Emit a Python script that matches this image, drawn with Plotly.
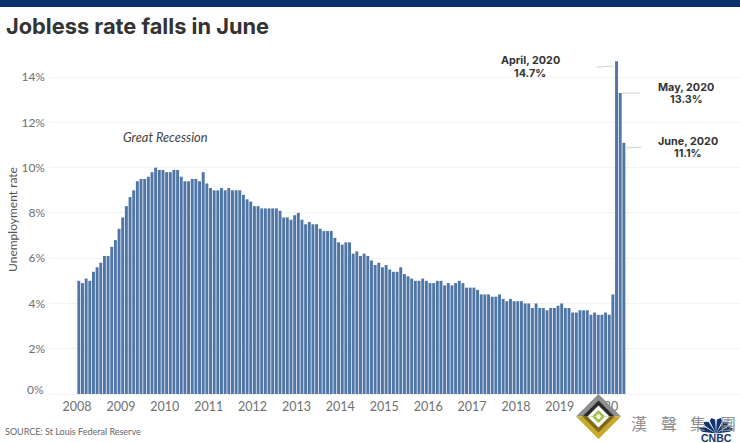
#!/usr/bin/env python3
import numpy as np
import plotly.graph_objects as go

# Monthly unemployment rate, Jan 2008 to Jun 2020
rate_2008 = [5.0, 4.9, 5.1, 5.0, 5.4, 5.6, 5.8, 6.1, 6.1, 6.5, 6.8, 7.3]
rate_2009 = [7.8, 8.3, 8.7, 9.0, 9.4, 9.5, 9.5, 9.6, 9.8, 10.0, 9.9, 9.9]
rate_2010 = [9.8, 9.8, 9.9, 9.9, 9.6, 9.4, 9.4, 9.5, 9.5, 9.4, 9.8, 9.3]
rate_2011 = [9.1, 9.0, 9.0, 9.1, 9.0, 9.1, 9.0, 9.0, 9.0, 8.8, 8.6, 8.5]
rate_2012 = [8.3, 8.3, 8.2, 8.2, 8.2, 8.2, 8.2, 8.1, 7.8, 7.8, 7.7, 7.9]
rate_2013 = [8.0, 7.7, 7.5, 7.6, 7.5, 7.5, 7.3, 7.2, 7.2, 7.2, 6.9, 6.7]
rate_2014 = [6.6, 6.7, 6.7, 6.2, 6.3, 6.1, 6.2, 6.1, 5.9, 5.7, 5.8, 5.6]
rate_2015 = [5.7, 5.5, 5.4, 5.4, 5.6, 5.3, 5.2, 5.1, 5.0, 5.0, 5.1, 5.0]
rate_2016 = [4.9, 4.9, 5.0, 5.0, 4.8, 4.9, 4.8, 4.9, 5.0, 4.9, 4.7, 4.7]
rate_2017 = [4.7, 4.6, 4.4, 4.4, 4.4, 4.3, 4.3, 4.4, 4.2, 4.1, 4.2, 4.1]
rate_2018 = [4.1, 4.1, 4.0, 4.0, 3.8, 4.0, 3.8, 3.8, 3.7, 3.8, 3.8, 3.9]
rate_2019 = [4.0, 3.8, 3.8, 3.6, 3.6, 3.7, 3.7, 3.7, 3.5, 3.6, 3.5, 3.5]
rate_2020 = [3.6, 3.5, 4.4, 14.7, 13.3, 11.1]

year_labels = ["2008", "2009", "2010", "2011", "2012", "2013", "2014",
               "2015", "2016", "2017", "2018", "2019", "2020"]
percent_ticks = [2, 4, 6, 8, 10, 12, 14]

rates = (rate_2008 + rate_2009 + rate_2010 + rate_2011 + rate_2012 + rate_2013 + rate_2014
         + rate_2015 + rate_2016 + rate_2017 + rate_2018 + rate_2019 + rate_2020)
months = np.arange(len(rates))

WIDTH, HEIGHT = 740, 443
LEFT, RIGHT, TOP, BOTTOM = 50, 0, 45, 49.4


# Pixel position on the page to paper coordinates
def px(x):
    return (x - LEFT) / (WIDTH - LEFT - RIGHT)


def py(y):
    return (HEIGHT - BOTTOM - y) / (HEIGHT - TOP - BOTTOM)


def polygon(points, color):
    path = "M " + " L ".join(f"{px(x)},{py(y)}" for x, y in points) + " Z"
    return dict(type="path", path=path, xref="paper", yref="paper",
                fillcolor=color, line_width=0, layer="above")


def leader(x0, y0, x1, y1):
    return dict(type="line", xref="paper", yref="paper", x0=px(x0), y0=py(y0), x1=px(x1), y1=py(y1),
                line=dict(color="#d0d0d0", width=1), layer="above")


def text(x, y, label, size, color="#333333", font="Lato", anchor="center"):
    return dict(x=px(x), y=py(y), xref="paper", yref="paper", text=label, showarrow=False,
                xanchor=anchor, yanchor="middle", borderpad=0,
                font=dict(family=font, size=size, color=color))


fig = go.Figure()
fig.add_trace(go.Bar(x=months, y=rates, marker=dict(color="#4f76a6", line_width=0),
                     hoverinfo="none"))

shapes = [
    # navy strip across the top
    polygon([(0, 0), (WIDTH, 0), (WIDTH, 7), (0, 7)], "#0b2f6c"),
    leader(597, 67, 614, 66),
    leader(622, 93, 640, 93),
    leader(625, 148, 641, 147),
]

# Watermark diamond
cx, cy = 598.5, 416
for half, top_color, bottom_color in [(22.5, "#8f8f8f", "#c9a92c"), (16, "#2b2b2b", "#7d6a1c"),
                                      (11, "#ffffff", "#ffffff"), (6.5, "#9dbf4a", "#9dbf4a"),
                                      (3, "#ffffff", "#ffffff")]:
    shapes.append(polygon([(cx - half, cy), (cx, cy - half), (cx + half, cy)], top_color))
    shapes.append(polygon([(cx - half, cy), (cx, cy + half), (cx + half, cy)], bottom_color))

# CNBC peacock, one feather per loop
for angle in [-72, -44, -15, 15, 44, 72]:
    a = np.radians(angle)
    bx, by = 716, 433
    tip = (bx + 18 * np.sin(a), by - 16 * np.cos(a))
    side1 = (bx + 14 * np.sin(a - 0.2), by - 14 * np.cos(a - 0.2))
    side2 = (bx + 14 * np.sin(a + 0.2), by - 14 * np.cos(a + 0.2))
    shapes.append(polygon([(bx, by), side1, tip, side2], "#12346f"))

annotations = [
    text(5, 26, "<b>Jobless rate falls in June</b>", 21.8, font="Inter", anchor="left"),
    text(530, 60, "<b>April, 2020</b>", 10.8, font="Inter"),
    text(530, 73, "<b>14.7%</b>", 10.8, font="Inter"),
    text(686, 87, "<b>May, 2020</b>", 10.8, font="Inter"),
    text(686, 99, "<b>13.3%</b>", 10.8, font="Inter"),
    text(688, 141, "<b>June, 2020</b>", 10.8, font="Inter"),
    text(688, 153, "<b>11.1%</b>", 10.8, font="Inter"),
    text(165, 137, "<i>Great Recession</i>", 12.8, color="#444444"),
    # the 0% label sits a little above its line in the original
    text(45, 389, "0%", 12, color="#707070", anchor="right"),
    text(4, 431, "SOURCE: St Louis Federal Reserve", 9, color="#666666", anchor="left"),
    text(639, 423, "漢", 16, color="#8c8c8c", font="Noto Sans CJK TC"),
    text(669, 423, "聲", 16, color="#8c8c8c", font="Noto Sans CJK TC"),
    text(698, 423, "集", 16, color="#8c8c8c", font="Noto Sans CJK TC"),
    text(728, 423, "團", 16, color="#8c8c8c", font="Noto Sans CJK TC"),
    text(716, 437.5, "<b>CNBC</b>", 10.5, color="#12346f", font="Liberation Sans"),
]

fig.update_layout(
    width=WIDTH,
    height=HEIGHT,
    margin=dict(l=LEFT, r=RIGHT, t=TOP, b=BOTTOM, pad=0),
    paper_bgcolor="white",
    plot_bgcolor="white",
    showlegend=False,
    bargap=0.2,
    shapes=shapes,
    annotations=annotations,
    font=dict(family="Lato", color="#666666"),
)
fig.update_xaxes(
    range=[-7.88, 180.75],
    tickvals=[12 * i - 0.5 for i in range(len(year_labels))],
    ticktext=year_labels,
    tickfont=dict(size=12.5, color="#707070"),
    ticks="",
    ticklabelstandoff=3,
    showgrid=False,
    zeroline=False,
    showline=False,
)
fig.update_yaxes(
    range=[0, 15.42],
    tickvals=percent_ticks,
    ticktext=[f"{p}%" for p in percent_ticks],
    tickfont=dict(size=12, color="#707070"),
    ticks="",
    ticklabelstandoff=4,
    title=dict(text="Unemployment rate", font=dict(size=12, color="#555555"), standoff=1),
    gridcolor="#f3f3f3",
    gridwidth=1,
    zeroline=True,
    zerolinecolor="#f3f3f3",
    zerolinewidth=1,
    showline=False,
)

# page margin off so the figure fills the window
fig.write_html("out.html", config=dict(displayModeBar=False),
               post_script="document.body.style.margin='0';")
